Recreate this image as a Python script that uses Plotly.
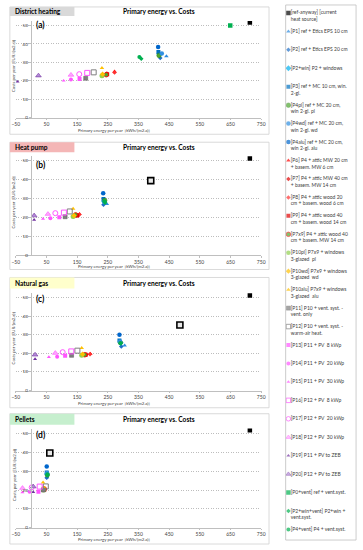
import plotly.graph_objects as go

W, H = 363, 550
FONT = "Lato"

# ---------------- data ----------------
SERIES = [
    "[ref-anyway] [current heat source]", "[P1] ref + Etics EPS 10 cm", "[P2] ref + Etics EPS 20 cm",
    "[P2+win] P2 + windows", "[P3] ref + MC 10 cm, win. 2-gl.", "[P4pl] ref + MC 20 cm, win 2-gl. pl",
    "[P4wd] ref + MC 20 cm, win 2-gl. wd", "[P4alu] ref + MC 20 cm, win 2-gl. alu",
    "[P6] P4 + attic MW 20 cm + basem. MW 6 cm", "[P7] P4 + attic MW 40 cm + basem. MW 14 cm",
    "[P8] P4 + attic wood 20 cm + basem. wood 6 cm", "[P9] P4 + attic wood 40 cm + basem. wood 14 cm",
    "[P7x9] P4 + attic wood 40 cm + basem. MW 14 cm", "[P10pl] P7x9 + windows 3-glazed  pl",
    "[P10wd] P7x9 + windows 3-glazed  wd", "[P10alu] P7x9 + windows 3-glazed  alu",
    "[P11] P10 + vent. syst. - vent. only", "[P12] P10 + vent. syst. - warm-air heat.",
    "[P13] P11 + PV  8 kWp", "[P14] P11 + PV  20 kWp", "[P15] P11 + PV  30 kWp",
    "[P16] P12 + PV  8 kWp", "[P17] P12 + PV  20 kWp", "[P18] P12 + PV  30 kWp",
    "[P19] P11 + PV to ZEB", "[P20] P12 + PV to ZEB", "[P0+vent] ref + vent.syst.",
    "[P2+win+vent] P2+win + vent.syst.", "[P4+vent] P4 + vent.syst.",
]
LEGEND_TEXT = [
    "[ref-anyway] [current<br>heat source]", "[P1] ref + Etics EPS 10 cm", "[P2] ref + Etics EPS 20 cm",
    "[P2+win] P2 + windows", "[P3] ref + MC 10 cm, win.<br>2-gl.", "[P4pl] ref + MC 20 cm,<br>win 2-gl. pl",
    "[P4wd] ref + MC 20 cm,<br>win 2-gl. wd", "[P4alu] ref + MC 20 cm,<br>win 2-gl. alu",
    "[P6] P4 + attic MW 20 cm<br>+ basem. MW 6 cm", "[P7] P4 + attic MW 40 cm<br>+ basem. MW 14 cm",
    "[P8] P4 + attic wood 20<br>cm + basem. wood 6 cm", "[P9] P4 + attic wood 40<br>cm + basem. wood 14 cm",
    "[P7x9] P4 + attic wood 40<br>cm + basem. MW 14 cm", "[P10pl] P7x9 + windows<br>3-glazed  pl",
    "[P10wd] P7x9 + windows<br>3-glazed  wd", "[P10alu] P7x9 + windows<br>3-glazed  alu",
    "[P11] P10 + vent. syst. -<br>vent. only", "[P12] P10 + vent. syst. -<br>warm-air heat.",
    "[P13] P11 + PV  8 kWp", "[P14] P11 + PV  20 kWp", "[P15] P11 + PV  30 kWp",
    "[P16] P12 + PV  8 kWp", "[P17] P12 + PV  20 kWp", "[P18] P12 + PV  30 kWp",
    "[P19] P11 + PV to ZEB", "[P20] P12 + PV to ZEB", "[P0+vent] ref + vent.syst.",
    "[P2+win+vent] P2+win +<br>vent.syst.", "[P4+vent] P4 + vent.syst.",
]
PANELS = ["District heating", "Heat pump", "Natural gas", "Pellets"]
PANEL_TAGS = ["(a)", "(b)", "(c)", "(d)"]
CHART_TITLE = "Primary energy vs. Costs"
X_TITLE = "Primary energy per year  [kWh/(m2.a)]"
Y_TITLE = "Costs per year [EUR/(m2.a)]"
X_TICKS = [-50, 50, 150, 250, 350, 450, 550, 650, 750]
Y_TICKS = [0, 10, 20, 30, 40, 50]

# primary energy [kWh/(m2.a)] and costs [EUR/(m2.a)], one value per series
DH_ENERGY = [713, 441, 421, 418, 415, 417, 426, 414, 272, 247, 272, 248, 245, 231, 233, 231,
             178, 204, 158, 130, 106, 183, 157, 130, -44, 24, 649, 359, 353]
DH_COST = [51.6, 33.3, 32.4, 34.5, 35.6, 33.8, 34.9, 38.3, 25.0, 23.9, 24.5, 23.6, 23.3, 22.8, 23.6, 27.0,
           21.4, 24.6, 21.0, 20.7, 20.1, 24.3, 23.6, 23.2, 19.5, 22.8, 50.0, 32.0, 32.9]
HP_ENERGY = [713, 247, 236, 238, 236, 240, 238, 235, 158, 150, 157, 150, 145, 137, 140, 137,
             111, 126, 92, 63, 39, 107, 79, 55, 10, 10, None, 241, 239]
HP_COST = [51.2, 27.2, 26.7, 28.5, 29.8, 29.0, 28.2, 32.8, 21.9, 21.2, 21.5, 21.0, 21.4, 20.5, 21.0, 24.6,
           20.4, 23.2, 20.2, 19.6, 19.3, 22.6, 22.3, 21.8, 18.8, 21.0, None, 27.8, 28.6]
NG_ENERGY = [713, 305, 294, 292, 288, 291, 290, 288, 193, 179, 192, 178, 175, 165, 168, 165,
             132, 151, 111, 85, 58, 131, 103, 79, 13, 13, None, 292, 291]
NG_COST = [51.0, 24.2, 23.7, 25.6, 26.9, 25.8, 26.3, 29.9, 19.8, 19.3, 19.5, 19.2, 19.2, 18.9, 19.5, 22.8,
           18.9, 21.4, 18.7, 18.1, 18.0, 21.0, 20.6, 20.1, 16.9, 19.2, None, 25.2, 25.5]
PE_ENERGY = [713, 52, 51, 52, 51, 53, 52, 51, 45, 44, 45, 43, 42, 40, 41, 39,
             40, 48, 24, -5, -28, 28, 2, -28, 7, 7, None, 53, 53]
PE_COST = [51.6, 26.7, 26.5, 28.5, 29.3, 28.0, 29.0, 32.5, 20.5, 20.3, 20.8, 20.2, 20.6, 20.0, 21.0, 24.0,
           20.0, 21.9, 19.1, 19.1, 18.8, 21.8, 21.4, 21.0, 18.9, 21.8, None, 27.8, 28.3]
# reference building with the new heat source (no legend entry)
REF_NEW_ENERGY = [None, 390, 485, 61]
REF_NEW_COST = [None, 39.5, 35.2, 39.6]

ENERGY = [DH_ENERGY, HP_ENERGY, NG_ENERGY, PE_ENERGY]
COST = [DH_COST, HP_COST, NG_COST, PE_COST]

# ---------------- styles ----------------
# symbol, size, fill, line colour, line width
STYLES = [
    ("square", 4.5, "#000000", "#000000", 0),
    ("triangle-up", 4, "#2E8BE0", "#2E8BE0", 0),
    ("diamond", 3.5, "#1F6FC8", "#1F6FC8", 0),
    ("diamond", 4.5, "#00B0F0", "#00B0F0", 0),
    ("square", 4, "#0070C0", "#0070C0", 0),
    ("circle", 4.5, "#4EA72E", "#2F7F1A", 0.5),
    ("circle", 4.5, "#2F8FE0", "#2F8FE0", 0),
    ("circle", 4.5, "#0066CC", "#0066CC", 0),
    ("triangle-up", 4, "#FF0000", "#FF0000", 0),
    ("diamond", 3.5, "#E00000", "#E00000", 0),
    ("diamond", 3.5, "#FF3030", "#FF3030", 0),
    ("square", 4, "#E00000", "#E00000", 0),
    ("circle", 4.5, "#4EA72E", "#FF0000", 0.8),
    ("circle", 5, "#92D050", "#92D050", 0),
    ("diamond", 4, "#FFC000", "#FFC000", 0),
    ("triangle-up", 4, "#FFC000", "#FFC000", 0),
    ("square", 4, "#7F7F7F", "#595959", 0.5),
    ("square-open", 5, "#7F7F7F", "#7F7F7F", 1),
    ("square", 4, "#FF55FF", "#FF55FF", 0),
    ("circle", 4, "#FF55FF", "#FF55FF", 0),
    ("triangle-up", 3.5, "#FF55FF", "#FF55FF", 0),
    ("square-open", 5, "#FF55FF", "#FF55FF", 1),
    ("circle-open", 5, "#FF55FF", "#FF55FF", 1),
    ("triangle-up", 5, "#FFA8FF", "#FF55FF", 0.6),
    ("triangle-up", 3.5, "#7030A0", "#7030A0", 0),
    ("triangle-up", 5, "#B48CD8", "#7030A0", 0.6),
    ("square", 4.5, "#00B050", "#00B050", 0),
    ("diamond", 3.5, "#00B050", "#00B050", 0),
    ("circle", 4, "#00B050", "#00B050", 0),
]

# ---------------- geometry (pixels) ----------------
PLOT_X = (12, 263)
YMAX = 52.5
GEOM = [
    dict(box=(7, 135), bar=(7, 16), y0=118.3, y50=25.7, tag=25, xt=131.5),
    dict(box=(143, 271), bar=(143, 153), y0=256.7, y50=161.7, tag=166, xt=267.5),
    dict(box=(279, 410), bar=(279, 290), y0=392.7, y50=299.0, tag=301, xt=405.5),
    dict(box=(416, 547), bar=(416, 427), y0=530.7, y50=435.7, tag=437, xt=542.5),
]
BAR_COLORS = ["#D9D9D9", "#F4B6B6", "#FFFFCC", "#C6EFCE"]


def px(v):
    return v / W


def py(v):
    return 1 - v / H


fig = go.Figure()
layout = dict(
    width=W, height=H, margin=dict(l=0, r=0, t=0, b=0),
    paper_bgcolor="white", plot_bgcolor="rgba(0,0,0,0)", showlegend=False,
    font=dict(family=FONT, color="#404040"),
)
shapes, annotations = [], []

x0_paper = px(PLOT_X[0] + (0 - X_TICKS[0]) / (X_TICKS[-1] - X_TICKS[0]) * (PLOT_X[1] - PLOT_X[0]))

for p, g in enumerate(GEOM):
    sfx = "" if p == 0 else str(p + 1)
    top = g["y0"] - (g["y0"] - g["y50"]) * YMAX / 50
    layout["xaxis" + sfx] = dict(
        domain=[px(PLOT_X[0]), px(PLOT_X[1])], range=[X_TICKS[0], X_TICKS[-1]], anchor="y" + sfx,
        tickmode="array", tickvals=X_TICKS, showgrid=False, zeroline=False,
        showline=True, linecolor="#BFBFBF", linewidth=0.8, ticks="outside", ticklen=1.5,
        tickcolor="#BFBFBF", tickfont=dict(size=5, color="#404040", family=FONT), fixedrange=True,
    )
    layout["yaxis" + sfx] = dict(
        domain=[py(g["y0"]), py(top)], range=[0, YMAX], anchor="free", position=x0_paper,
        tickmode="array", tickvals=Y_TICKS, showgrid=True, gridcolor="#BDBDBD", griddash="1px,1.5px",
        gridwidth=0.8, zeroline=False, showline=True, linecolor="#BFBFBF", linewidth=0.8,
        ticks="outside", ticklen=2.5, tickcolor="#BFBFBF",
        tickfont=dict(size=4.5, color="#404040", family=FONT), fixedrange=True,
    )
    # panel frame and heading bar
    shapes.append(dict(type="rect", xref="paper", yref="paper", x0=px(6), x1=px(271),
                       y0=py(g["box"][1]), y1=py(g["box"][0]), line=dict(color="#D0D0D0", width=0.8),
                       fillcolor="rgba(0,0,0,0)", layer="below"))
    shapes.append(dict(type="rect", xref="paper", yref="paper", x0=px(6), x1=px(72),
                       y0=py(g["bar"][1]), y1=py(g["bar"][0]), line=dict(width=0),
                       fillcolor=BAR_COLORS[p], layer="below"))
    mid_bar = (g["bar"][0] + g["bar"][1]) / 2
    annotations.append(dict(xref="paper", yref="paper", x=px(9), y=py(mid_bar), xanchor="left",
                            yanchor="middle", showarrow=False, text="<b>%s</b>" % PANELS[p],
                            font=dict(size=6.6, color="#000000", family=FONT)))
    annotations.append(dict(xref="paper", yref="paper", x=px(159), y=py(mid_bar), xanchor="center",
                            yanchor="middle", showarrow=False, text="<b>%s</b>" % CHART_TITLE,
                            font=dict(size=6.6, color="#000000", family=FONT)))
    annotations.append(dict(xref="paper", yref="paper", x=px(30.5), y=py(g["tag"]), xanchor="left",
                            yanchor="middle", showarrow=False, text="<b>%s</b>" % PANEL_TAGS[p],
                            font=dict(size=8.5, color="#000000", family=FONT)))
    annotations.append(dict(xref="paper", yref="paper", x=px(112), y=py(g["xt"]), xanchor="center",
                            yanchor="middle", showarrow=False, text=X_TITLE,
                            font=dict(size=4.3, color="#404040", family=FONT)))
    annotations.append(dict(xref="paper", yref="paper", x=px(10), y=py((top + g["y0"]) / 2 - 3),
                            xanchor="center", yanchor="middle", showarrow=False, text=Y_TITLE,
                            textangle=-90, font=dict(size=4.3, color="#404040", family=FONT)))

    # data points
    for i, name in enumerate(SERIES):
        e, c = ENERGY[p][i], COST[p][i]
        if e is None or c is None:
            continue
        sym, size, fill, lc, lw = STYLES[i]
        fig.add_trace(go.Scatter(
            x=[e], y=[c], mode="markers", name=name, legendgroup=name, showlegend=False,
            xaxis="x" + sfx, yaxis="y" + sfx,
            marker=dict(symbol=sym, size=size, color=fill, line=dict(color=lc, width=lw)),
        ))
    if REF_NEW_ENERGY[p] is not None:
        fig.add_trace(go.Scatter(
            x=[REF_NEW_ENERGY[p]], y=[REF_NEW_COST[p]], mode="markers", name="ref (new heat source)",
            showlegend=False, xaxis="x" + sfx, yaxis="y" + sfx,
            marker=dict(symbol="square", size=6, color="#E8E8E8", line=dict(color="#000000", width=1.6)),
        ))

# ---------------- legend (own pixel-unit axes) ----------------
LEG_BOX = (288, 360, 5, 543)
layout["xaxis5"] = dict(domain=[px(LEG_BOX[0]), px(LEG_BOX[1])], range=[LEG_BOX[0], LEG_BOX[1]],
                        visible=False, fixedrange=True, anchor="y5")
layout["yaxis5"] = dict(domain=[py(LEG_BOX[3]), py(LEG_BOX[2])], range=[LEG_BOX[3], LEG_BOX[2]],
                        visible=False, fixedrange=True, anchor="x5")
shapes.append(dict(type="rect", xref="paper", yref="paper", x0=px(LEG_BOX[0]), x1=px(LEG_BOX[1]),
                   y0=py(LEG_BOX[3]), y1=py(LEG_BOX[2]), line=dict(color="#BFBFBF", width=0.8),
                   fillcolor="rgba(0,0,0,0)"))
n = len(SERIES)
step = 18.55
leg_y = [13 + k * step for k in range(n)]
LEG_FS = 5
fig.add_trace(go.Scatter(
    x=[290.8] * n, y=leg_y, mode="markers", xaxis="x5", yaxis="y5", hoverinfo="skip", showlegend=False,
    marker=dict(symbol=[s[0] for s in STYLES], size=[min(s[1], 4.5) for s in STYLES],
                color=[s[2] for s in STYLES], line=dict(color=[s[3] for s in STYLES],
                                                       width=[s[4] for s in STYLES])),
))
fig.add_trace(go.Scatter(
    x=[293.2] * n, y=[yy - 0.45 * LEG_FS for yy in leg_y], mode="text", text=LEGEND_TEXT,
    textposition="bottom right", xaxis="x5", yaxis="y5", hoverinfo="skip", showlegend=False,
    textfont=dict(size=LEG_FS, color="#404040", family=FONT),
))

layout["shapes"] = shapes
layout["annotations"] = annotations
fig.update_layout(**layout)
fig.write_html("out.html", config={"displayModeBar": False},
               post_script="document.body.style.margin='0';")
